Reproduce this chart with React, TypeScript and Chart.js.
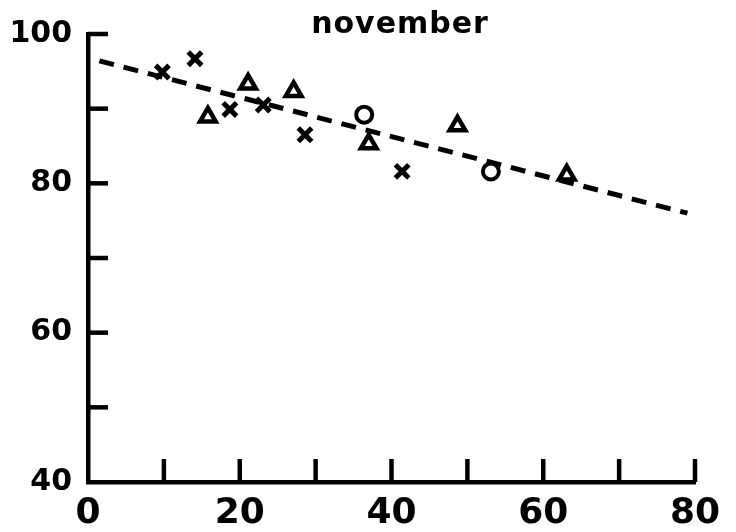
import React, { useEffect, useRef } from "react";
import { Chart, registerables } from "chart.js";

Chart.register(...registerables);

const titleText = "november";

const crossX = [9.8, 14.1, 18.7, 23.1, 28.6, 41.4];
const crossY = [94.9, 96.7, 89.9, 90.5, 86.5, 81.6];
const triX = [15.8, 21.1, 27.1, 37.0, 48.7, 63.1];
const triY = [88.9, 93.3, 92.3, 85.3, 87.7, 81.1];
const circX = [36.4, 53.1];
const circY = [89.2, 81.6];
const lineX = [1.5, 79];
const lineY = [96.4, 76.0];

const xTickValues = [0, 10, 20, 30, 40, 50, 60, 70, 80];
const yTickValues = [40, 50, 60, 70, 80, 90, 100];

const FONT = "'DejaVu Sans', sans-serif";

const zip = (xs: number[], ys: number[]) => xs.map((x, i) => ({ x, y: ys[i] }));

const innerTicks = {
  id: "innerTicks",
  beforeDatasetsDraw(chart: any) {
    const { ctx, scales } = chart;
    const xs = scales.x;
    const ys = scales.y;
    ctx.save();
    ctx.strokeStyle = "#000";
    ctx.lineWidth = 4.5;
    ctx.lineCap = "butt";
    const base = ys.getPixelForValue(40);
    xTickValues.forEach((v) => {
      if (v === 0) return;
      const px = xs.getPixelForValue(v);
      ctx.beginPath();
      ctx.moveTo(px, base);
      ctx.lineTo(px, base - 23);
      ctx.stroke();
    });
    const left = xs.getPixelForValue(0);
    yTickValues.forEach((v) => {
      if (v === 40) return;
      const py = ys.getPixelForValue(v);
      ctx.beginPath();
      ctx.moveTo(left, py);
      ctx.lineTo(left + 20, py);
      ctx.stroke();
    });
    ctx.restore();
  },
};

const titlePlugin = {
  id: "titleText",
  afterDraw(chart: any) {
    const { ctx } = chart;
    ctx.save();
    ctx.fillStyle = "#000";
    ctx.font = `bold 30px ${FONT}`;
    (ctx as any).letterSpacing = "1px";
    ctx.textAlign = "center";
    ctx.textBaseline = "alphabetic";
    ctx.fillText(titleText, 400, 33);
    ctx.restore();
  },
};

export default function App() {
  const ref = useRef<HTMLCanvasElement | null>(null);
  useEffect(() => {
    if (!ref.current) return;
    const chart = new Chart(ref.current, {
      type: "scatter",
      data: {
        datasets: [
          {
            label: "fit",
            data: zip(lineX, lineY),
            showLine: true,
            borderColor: "#000",
            borderWidth: 5,
            borderDash: [15, 10],
            pointRadius: 0,
            order: 4,
          },
          {
            label: "x",
            data: zip(crossX, crossY),
            pointStyle: "crossRot",
            pointRadius: 9.5,
            borderColor: "#000",
            borderWidth: 5,
            backgroundColor: "#000",
          },
          {
            label: "triangle",
            data: zip(triX, triY),
            pointStyle: "triangle",
            pointRadius: 9,
            borderColor: "#000",
            borderWidth: 4.5,
            backgroundColor: "#fff",
          },
          {
            label: "circle",
            data: zip(circX, circY),
            pointStyle: "circle",
            pointRadius: 8,
            borderColor: "#000",
            borderWidth: 4,
            backgroundColor: "#fff",
          },
        ],
      },
      options: {
        responsive: false,
        animation: false,
        layout: { padding: { left: 0, right: 41, top: 30, bottom: 0 } },
        plugins: {
          legend: { display: false },
          title: { display: false },
          tooltip: { enabled: false },
        },
        scales: {
          x: {
            type: "linear",
            min: 0,
            max: 80,
            afterBuildTicks: (s: any) => {
              s.ticks = xTickValues.map((v) => ({ value: v }));
            },
            ticks: {
              autoSkip: false,
              maxRotation: 0,
              color: "#000",
              font: { family: FONT, size: 36, weight: "bold" },
              padding: 10,
              callback: (v: any) => (Number(v) % 20 === 0 ? String(v) : ""),
            },
            grid: { display: false, drawTicks: false },
            border: { display: true, color: "#000", width: 4.5 },
            afterFit: (s: any) => {
              s.height = 50;
            },
          },
          y: {
            type: "linear",
            min: 40,
            max: 100,
            afterBuildTicks: (s: any) => {
              s.ticks = yTickValues.map((v) => ({ value: v }));
            },
            ticks: {
              autoSkip: false,
              color: "#000",
              font: { family: FONT, size: 30, weight: "bold" },
              padding: 16,
              callback: (v: any) => (Number(v) % 20 === 0 ? String(v) : ""),
            },
            grid: { display: false, drawTicks: false },
            border: { display: true, color: "#000", width: 4.5 },
            afterFit: (s: any) => {
              s.width = 88;
            },
          },
        },
      },
      plugins: [innerTicks, titlePlugin],
    });
    return () => chart.destroy();
  }, []);
  return (
    <div style={{ position: "absolute", left: 0, top: 0, width: 736, height: 532, background: "#fff" }}>
      <canvas ref={ref} width={736} height={532} />
    </div>
  );
}
